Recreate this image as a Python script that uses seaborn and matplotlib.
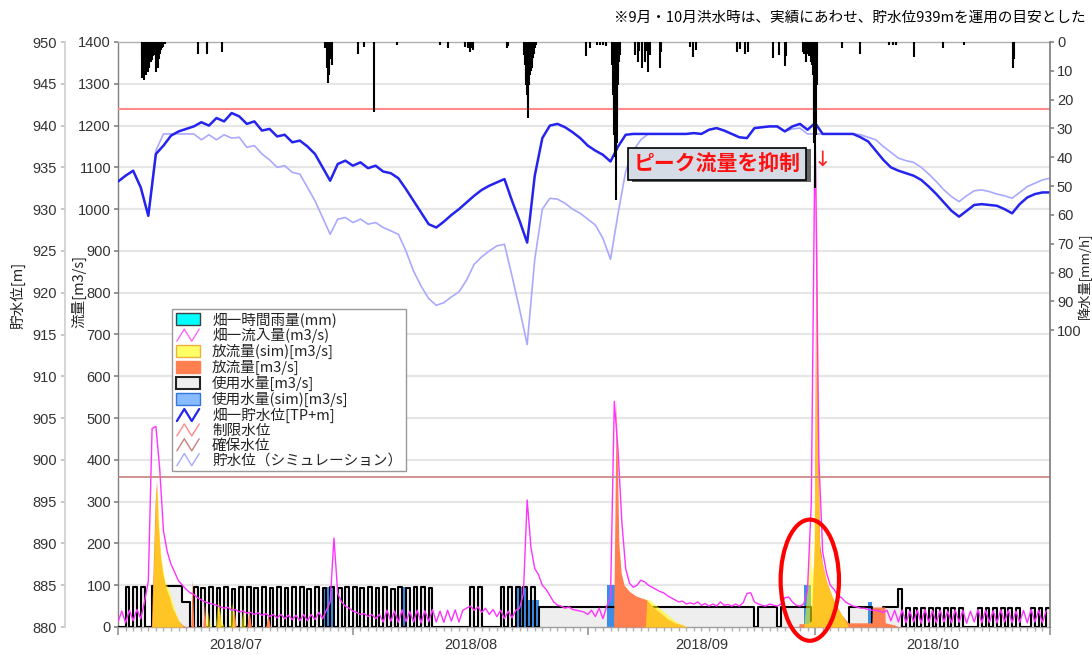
import numpy as np
import pandas as pd
import matplotlib
matplotlib.use("Agg")
import matplotlib.pyplot as plt
import matplotlib.dates as mdates
import matplotlib.transforms as mtransforms
import matplotlib.patheffects as pe
from matplotlib.patches import Rectangle, Ellipse
from matplotlib.lines import Line2D
from matplotlib.legend_handler import HandlerBase
from matplotlib.ticker import NullFormatter
import seaborn as sns

sns.set_theme(style="white")
plt.rcParams["font.family"] = ["Liberation Sans", "Noto Sans CJK JP", "DejaVu Sans"]
JP = ["Noto Sans CJK JP", "DejaVu Sans"]

START = pd.Timestamp("2018-07-01")
END = pd.Timestamp("2018-11-01")

# ---------------------------------------------------------------- data
month_starts = ["2018-07-01", "2018-08-01", "2018-09-01", "2018-10-01", "2018-11-01"]
month_labels = ["2018/07", "2018/08", "2018/09", "2018/10"]

# 畑一流入量 [m3/s], every 12 h from 2018-07-01 00:00
inflow_q = [
    12, 38, 10, 40, 15, 42, 20, 60, 110, 475, 480, 380, 230, 180, 150, 130, 110, 100, 90, 82,
    78, 70, 65, 60, 57, 55, 52, 48, 45, 47, 40, 42, 36, 38, 33, 35, 30, 34, 28, 32,
    25, 30, 22, 30, 20, 28, 18, 28, 15, 30, 15, 30, 18, 35, 20, 40, 60, 213, 80, 60,
    50, 45, 38, 35, 30, 32, 25, 30, 20, 30, 12, 40, 14, 38, 11, 41, 13, 37, 12, 40,
    10, 39, 13, 42, 12, 38, 11, 40, 14, 41, 12, 40, 45, 50, 40, 48, 35, 45, 30, 42,
    25, 40, 20, 38, 22, 40, 45, 80, 304, 190, 140, 125, 100, 90, 75, 60, 52, 50, 45, 48,
    42, 40, 38, 36, 30, 40, 25, 45, 20, 50, 70, 540, 420, 250, 140, 105, 95, 100, 112, 108,
    100, 95, 90, 85, 82, 75, 70, 65, 60, 62, 55, 58, 55, 60, 52, 56, 50, 55, 50, 60,
    52, 54, 50, 55, 50, 58, 80, 82, 60, 55, 52, 50, 55, 52, 50, 55, 70, 72, 60, 52,
    50, 55, 90, 300, 1200, 400, 180, 130, 100, 90, 75, 70, 60, 55, 50, 48, 45, 45, 42, 40,
    40, 38, 35, 40, 15, 40, 12, 41, 10, 38, 12, 40, 9, 42, 11, 39, 10, 40, 12, 38,
    10, 41, 11, 40, 9, 38, 12, 42, 10, 40, 11, 39, 10, 41, 12, 40, 10, 38, 11, 40,
    10, 42, 12, 40, 10, 39,
]

# 使用水量 [m3/s], every 12 h (step)
use_q = [
    0, 0, 95, 0, 95, 0, 95, 0, 0, 98, 98, 98, 98, 98, 98, 98, 98, 60, 60, 0,
    95, 0, 93, 0, 95, 0, 94, 0, 95, 0, 92, 0, 95, 0, 95, 0, 93, 0, 95, 0,
    94, 0, 95, 0, 93, 0, 95, 0, 95, 0, 92, 0, 95, 0, 94, 0, 95, 0, 93, 0,
    95, 0, 95, 0, 94, 0, 95, 0, 93, 0, 95, 0, 92, 0, 95, 0, 94, 0, 95, 0,
    95, 0, 93, 0, 0, 0, 0, 0, 0, 0, 0, 0, 0, 95, 0, 95, 0, 0, 0, 0,
    0, 95, 0, 95, 0, 95, 0, 95, 0, 95, 0, 48, 48, 48, 48, 48, 48, 48, 48, 48,
    48, 48, 48, 48, 48, 48, 48, 48, 48, 48, 48, 48, 48, 48, 48, 48, 48, 48, 48, 48,
    48, 48, 48, 48, 48, 48, 48, 48, 48, 48, 48, 48, 48, 48, 48, 48, 48, 48, 48, 48,
    48, 48, 48, 48, 48, 48, 48, 48, 0, 48, 48, 48, 48, 48, 0, 48, 48, 48, 48, 48,
    48, 48, 48, 0, 0, 0, 0, 0, 0, 0, 0, 0, 0, 48, 48, 48, 48, 48, 48, 0,
    0, 0, 47, 47, 47, 47, 90, 0, 45, 0, 45, 0, 45, 0, 45, 0, 45, 0, 45, 0,
    45, 0, 45, 0, 0, 0, 0, 45, 0, 45, 0, 45, 0, 45, 0, 45, 0, 45, 0, 0,
    0, 45, 0, 45, 0, 45,
]

# 使用水量(sim) [m3/s], step breakpoints (days from 2018-07-01)
sim_use_day = [0, 27.0, 28.5, 37.5, 38.0, 52.5, 54.0, 55.5, 64.5, 66.0, 90.5, 91.5, 99.0, 99.5, 123]
sim_use_q = [0, 95, 0, 95, 0, 95, 65, 0, 100, 0, 100, 0, 60, 0, 0]

# 放流量 [m3/s]
outflow_day = [0, 4.4, 4.6, 4.9, 5.1, 5.3, 5.6, 5.9, 6.3, 6.8, 7.2, 7.6, 8.0, 8.5, 9.0,
               9.6, 9.8, 10.0, 11.2, 11.4, 11.6, 13.0, 13.3, 13.6, 15.0, 15.3, 15.6,
               17.0, 17.3, 17.6, 19.5, 19.8, 20.1,
               65.4, 65.6, 65.75, 65.9, 66.1, 66.4, 66.8, 67.5, 68.3, 69.0, 69.8, 70.5,
               71.5, 72.5, 73.5, 74.5, 75.0,
               89.8, 89.9, 91.0, 91.5, 91.9, 92.15, 92.35, 92.6, 93.0, 93.5, 94.0, 94.5,
               95.0, 95.5, 96.0, 96.4, 99.5, 99.55, 101.2, 101.25, 102.5, 103.0, 123]
outflow_q = [0, 0, 120, 300, 350, 250, 170, 130, 95, 70, 45, 30, 15, 5, 0,
             0, 115, 0, 0, 60, 0, 0, 50, 0, 0, 45, 0,
             0, 40, 0, 0, 30, 0,
             0, 300, 548, 400, 200, 130, 100, 85, 75, 70, 65, 50,
             35, 20, 10, 5, 0,
             0, 8, 8, 15, 200, 1140, 500, 200, 150, 110, 85, 62,
             45, 30, 18, 10, 10, 48, 48, 10, 5, 0, 0]

# 放流量(sim) [m3/s]
sim_outflow_day = [0, 4.5, 4.7, 5.0, 5.2, 5.5, 5.8, 6.2, 6.7, 7.2, 7.7, 8.2, 8.6,
                   11.5, 11.8, 12.2, 12.8, 13.2, 13.6, 14.0, 14.6, 15.0, 15.4, 16.2, 16.5, 16.8,
                   69.6, 69.8, 70.5, 71.5, 72.5, 73.5, 74.5, 75.2,
                   90.5, 90.7, 91.0, 91.3, 91.5, 91.8, 92.0, 92.15, 92.3, 92.6, 93.0, 93.5,
                   94.0, 94.5, 95.0, 95.5, 96.0, 96.4, 123]
sim_outflow_q = [0, 0, 150, 320, 330, 200, 150, 110, 90, 60, 30, 10, 0,
                 0, 40, 0, 0, 70, 20, 0, 0, 60, 0, 0, 45, 0,
                 0, 69, 60, 45, 30, 15, 5, 0,
                 0, 40, 100, 232, 120, 150, 400, 1100, 450, 180, 150, 110,
                 85, 62, 45, 30, 15, 0, 0]

# 畑一時間雨量 [mm/h]
rain_day = [3.15, 3.2, 3.3, 3.4, 3.47, 3.55, 3.65, 3.75, 3.85, 3.95, 4.05, 4.15, 4.25, 4.35,
            4.45, 4.6, 4.7, 4.8, 4.95, 5.05, 5.15, 5.25, 5.35, 5.5, 5.7, 5.85, 6.0, 6.2,
            10.6, 11.7, 11.8, 13.7,
            27.3, 27.6, 27.7, 27.8, 27.9, 28.05, 28.2,
            31.7, 32.4, 33.8, 36.8,
            42.5, 43.6, 45.8, 46.2, 46.5, 46.6, 46.9, 51.3, 51.5,
            53.6, 53.7, 53.8, 53.9, 53.96, 54.05, 54.12, 54.2, 54.3, 54.4, 54.5, 54.6, 54.7,
            54.8, 54.9, 55.0, 55.2,
            61.7, 62.3, 63.2, 63.6, 64.0, 64.4,
            65.2, 65.3, 65.4, 65.5, 65.6, 65.7, 65.8, 65.9, 66.0, 66.05, 66.15, 66.2,
            68.2, 68.6, 68.8, 69.1, 69.5, 69.7, 70.0, 70.2, 71.5, 71.7,
            75.5, 75.9, 76.3,
            81.7, 82.1, 82.7, 83.2,
            86.5, 87.3, 88.0, 88.2,
            90.4, 90.6, 90.8, 91.0, 91.2, 91.35, 91.5, 91.6, 91.7, 91.8, 91.9, 92.0, 92.1,
            92.2, 92.3,
            95.5, 97.9, 101.8, 102.3, 102.7, 105.1, 108.9, 111.7, 118.1, 118.2]
rain_mm = [6, 12.6, 9, 11, 13.2, 8, 10, 11.5, 7, 10.3, 9, 8, 6, 7,
           6.2, 5, 4, 4.5, 6, 10.3, 8, 9.1, 6, 4, 2.8, 2, 1.6, 0.8,
           4, 4, 2, 3.4,
           2.2, 9, 14.3, 10, 11.5, 6, 8,
           4, 1.6, 24.2, 1,
           1, 2.2, 1.6, 2.2, 3.4, 2, 2.8, 2.2, 1.5,
           4.5, 8, 12.6, 15, 18.4, 26.5, 20, 14.9, 13, 11.5, 10, 9.1, 7,
           5.7, 4, 2.2, 1,
           5, 2.2, 1, 1.2, 1, 1.5,
           8, 18.4, 25, 32.3, 40, 54.9, 35, 26.5, 15, 11.5, 7, 4.5,
           4.5, 6.8, 3, 9.1, 6.8, 3, 10.3, 4.5, 9.1, 3.4,
           1.6, 5.1, 2.8,
           3.5, 2.5, 4, 3.5,
           5.7, 4.5, 8.5, 5,
           3.4, 4, 6.8, 4, 5, 4, 6.8, 8, 11.5, 26.5, 35, 50.8, 32.3,
           14.9, 4.5,
           2.2, 4, 1, 1, 1, 5.1, 2.2, 1, 9.1, 6]

# 畑一貯水位 [TP+m], daily from 2018-07-01
level_obs = [
    933.3, 934.0, 934.6, 932.6, 929.2, 936.6, 937.6, 938.8, 939.3, 939.6,
    939.9, 940.4, 940.0, 940.9, 940.5, 941.5, 941.1, 940.2, 940.5, 939.4,
    939.6, 938.7, 938.9, 938.0, 938.2, 937.5, 936.6, 935.0, 933.4, 935.4,
    935.8, 935.2, 935.6, 934.9, 935.2, 934.5, 934.3, 933.7, 932.4, 931.0,
    929.6, 928.2, 927.8, 928.5, 929.3, 930.0, 930.8, 931.6, 932.3, 932.8,
    933.2, 933.6, 931.0, 928.6, 926.0, 934.0, 938.5, 940.0, 940.2, 939.8,
    939.2, 938.5, 937.6, 937.0, 936.5, 935.7, 937.5, 938.9, 939.0, 939.0,
    939.0, 939.0, 939.0, 939.0, 939.0, 939.0, 939.1, 939.0, 939.5, 939.7,
    939.4, 939.0, 938.6, 938.5, 939.7, 939.8, 939.9, 939.9, 939.3, 939.9,
    940.2, 939.5, 940.3, 939.0, 939.0, 939.0, 939.0, 939.0, 938.6, 938.1,
    937.0, 935.9, 935.0, 934.6, 934.3, 934.0, 933.5, 932.7, 931.8, 930.8,
    929.8, 929.1, 929.8, 930.5, 930.6, 930.5, 930.4, 930.0, 929.5, 930.6,
    931.4, 931.8, 932.0, 932.0,
]

# 貯水位（シミュレーション）[m], daily
level_sim = [
    933.3, 934.0, 934.6, 932.6, 929.2, 937.0, 939.0, 939.0, 939.0, 939.0,
    939.0, 938.3, 938.9, 938.3, 938.9, 938.5, 938.6, 937.4, 937.6, 936.6,
    935.9, 935.0, 935.2, 934.4, 934.2, 932.6, 931.0, 929.0, 927.0, 928.8,
    929.0, 928.4, 928.8, 928.2, 928.4, 927.8, 927.4, 927.0, 925.0, 922.6,
    920.8, 919.3, 918.5, 918.8, 919.5, 920.1, 921.5, 923.4, 924.3, 925.0,
    925.6, 925.8, 922.0, 918.0, 913.8, 924.0, 930.0, 931.3, 931.2, 930.7,
    930.0, 929.5, 928.8, 928.1, 926.5, 924.0, 929.5, 934.5, 937.0, 938.3,
    939.0, 939.0, 939.0, 939.0, 939.0, 939.0, 939.1, 939.0, 939.5, 939.7,
    939.4, 939.0, 938.6, 938.5, 939.7, 939.8, 939.9, 939.9, 939.3, 939.6,
    939.7, 939.0, 939.0, 939.0, 939.0, 939.0, 939.0, 939.0, 938.9, 938.6,
    938.3, 937.5, 936.8, 936.1, 935.8, 935.6, 935.0, 934.2, 933.3, 932.3,
    931.5, 930.9, 931.6, 932.2, 932.3, 932.1, 931.8, 931.6, 931.3, 932.0,
    932.7, 933.1, 933.5, 933.7,
]

limit_level = 942.0    # 制限水位
secure_level = 898.0   # 確保水位

flow_ticks = list(range(0, 1401, 100))
level_ticks = list(range(880, 951, 5))
rain_ticks = list(range(0, 101, 10))

# ---------------------------------------------------------------- helpers
def to_dates(days):
    return START + pd.to_timedelta(np.asarray(days, dtype=float), unit="D")


half_day = START + pd.to_timedelta(np.arange(len(inflow_q)) * 12, unit="h")
use_t = START + pd.to_timedelta(np.arange(len(use_q) + 1) * 12, unit="h")
use_vals = np.append(use_q, use_q[-1])
level_t = START + pd.to_timedelta(np.arange(len(level_obs)), unit="D")


class ZigzagHandler(HandlerBase):
    def create_artists(self, legend, orig_handle, xdescent, ydescent, width,
                       height, fontsize, trans):
        x = np.array([0.05, 0.35, 0.65, 0.95]) * width - xdescent
        y = np.array([0.0, 1.0, 0.0, 1.0]) * height - ydescent
        ln = Line2D(x, y, color=orig_handle.get_color(),
                    lw=orig_handle.get_linewidth(), transform=trans)
        return [ln]


# ---------------------------------------------------------------- figure
W, H = 1092, 655
fig = plt.figure(figsize=(W / 100, H / 100), dpi=100)
ax = fig.add_axes([118 / W, 28 / H, 932 / W, 585 / H])
ax_lvl = ax.twinx()
ax_rain = ax.twinx()

TICK_C = "#333333"

# flow axis (left, inner)
ax.set_ylim(0, 1400)
ax.set_yticks(flow_ticks)
ax.yaxis.grid(True, color="#E6E6E6", lw=1.6)
ax.set_axisbelow(True)
ax.tick_params(axis="y", left=True, length=3, pad=2, labelsize=10.5,
               labelcolor=TICK_C, color="#888888")
for s, c in [("left", "#808080"), ("bottom", "#A0A0A0"), ("top", "#B0B0B0")]:
    ax.spines[s].set_color(c)
    ax.spines[s].set_linewidth(1.0)
ax.spines["right"].set_visible(False)

# water use (grey area + black outline) and simulated water use
ax.fill_between(use_t, 0, use_vals, step="post", color="#EEEEEE", lw=0, zorder=1)
sim_use_t = to_dates(sim_use_day)
ax.fill_between(sim_use_t, 0, sim_use_q, step="post", color="#3A8EE6", lw=0, zorder=2)
ax.step(use_t, use_vals, where="post", color="black", lw=1.5, zorder=3)

# outflows
ax.fill_between(to_dates(outflow_day), 0, outflow_q, color="#FF7F50", lw=0, zorder=4)
ax.fill_between(to_dates(sim_outflow_day), 0, sim_outflow_q, color="#FFFF00",
                alpha=0.55, lw=0, zorder=5)

# inflow
sns.lineplot(x=half_day, y=inflow_q, ax=ax, color="#FF33FF", lw=1.0,
             estimator=None, zorder=6)

# date axis
ax.set_xlim(START, END)
ax.xaxis.set_major_locator(mdates.MonthLocator())
ax.xaxis.set_major_formatter(NullFormatter())
ax.xaxis.set_minor_locator(mdates.DayLocator())
ax.tick_params(axis="x", which="major", bottom=True, length=6, color="#999999")
ax.tick_params(axis="x", which="minor", bottom=True, length=3, color="#B0B0B0")
xlab_tr = mtransforms.blended_transform_factory(ax.transData, ax.transAxes)
for i, lab in enumerate(month_labels):
    a = pd.Timestamp(month_starts[i])
    b = pd.Timestamp(month_starts[i + 1])
    ax.text(a + (b - a) / 2, -0.031, lab, transform=xlab_tr, ha="center",
            va="center", fontsize=10.5, color=TICK_C)
ax.set_xlabel("")
ax.set_ylabel("")

# level axis (left, outer)
ax_lvl.set_ylim(880, 950)
ax_lvl.set_yticks(level_ticks)
ax_lvl.yaxis.tick_left()
ax_lvl.spines["left"].set_position(("axes", -53 / 932))
ax_lvl.spines["left"].set_visible(True)
ax_lvl.spines["left"].set_color("#D0D0D0")
for s in ["right", "top", "bottom"]:
    ax_lvl.spines[s].set_visible(False)
ax_lvl.tick_params(axis="y", left=True, length=3, pad=3, labelsize=10.5,
                   labelcolor=TICK_C, color="#C0C0C0")
ax_lvl.axhline(limit_level, color="#FF8A8A", lw=1.5, zorder=2)
ax_lvl.axhline(secure_level, color="#C98080", lw=1.2, zorder=2)
sns.lineplot(x=level_t, y=level_sim, ax=ax_lvl, color="#A9A9FF", lw=1.2,
             estimator=None, zorder=3)
sns.lineplot(x=level_t, y=level_obs, ax=ax_lvl, color="#2424EE", lw=1.8,
             estimator=None, zorder=4)
ax_lvl.set_ylabel("")
ax_lvl.set_xlabel("")

# rainfall axis (right, inverted)
ax_rain.set_ylim(203, 0)
ax_rain.set_yticks(rain_ticks)
for s in ["left", "top", "bottom"]:
    ax_rain.spines[s].set_visible(False)
ax_rain.spines["right"].set_color("#808080")
ax_rain.tick_params(axis="y", right=True, length=3, pad=2, labelsize=10.5,
                    labelcolor=TICK_C, color="#888888")
ax_rain.vlines(to_dates(rain_day), 0, rain_mm, color="black", lw=1.5)
ax_rain.set_xlim(START, END)

# axis titles
fig.text(18 / W, 1 - 295 / H, "貯水位[m]", rotation=90, ha="center", va="center",
         fontsize=10.5, family=JP, color="#222222")
fig.text(79 / W, 1 - 292 / H, "流量[m3/s]", rotation=90, ha="center", va="center",
         fontsize=10.5, family=JP, color="#222222")
fig.text(1085 / W, 1 - 276 / H, "降水量[mm/h]", rotation=90, ha="center", va="center",
         fontsize=9.5, family=JP, color="#222222")

# note at top
fig.text(1086 / W, 1 - 18 / H, "※9月・10月洪水時は、実績にあわせ、貯水位939mを運用の目安とした",
         ha="right", va="center", fontsize=10.5, family=JP, color="black")

# callout
callout = fig.text(717 / W, 1 - 164 / H, "ピーク流量を抑制", ha="center", va="center",
                   fontsize=15, fontweight="bold", color="#FF1010", family=JP,
                   bbox=dict(boxstyle="square,pad=0.28", fc="#D6DCE5", ec="black", lw=1.2),
                   zorder=20)
callout.get_bbox_patch().set_path_effects(
    [pe.SimplePatchShadow(offset=(3, -1), shadow_rgbFace="#555555", alpha=0.9), pe.Normal()])
fig.text(822 / W, 1 - 160 / H, "↓", ha="center", va="center", fontsize=15,
         color="#FF2020", family=["DejaVu Sans"], zorder=20)

# ellipse around the flood peak
peak_c = mdates.date2num(to_dates([91.3])[0])
ax.add_patch(Ellipse((peak_c, 112), width=7.7, height=290, transform=ax.transData,
                     fill=False, ec="#FF0000", lw=3, clip_on=False, zorder=30))

# legend
handles = [
    Rectangle((0, 0), 1, 1, fc="#00FFFF", ec="#404040", lw=1),
    Line2D([], [], color="#FF66FF", lw=1.0),
    Rectangle((0, 0), 1, 1, fc="#FFFF66", ec="#F0B040", lw=1),
    Rectangle((0, 0), 1, 1, fc="#FF7F50", ec="#FF7F50", lw=1),
    Rectangle((0, 0), 1, 1, fc="#EEEEEE", ec="#222222", lw=1.5),
    Rectangle((0, 0), 1, 1, fc="#88BBFF", ec="#3377DD", lw=1),
    Line2D([], [], color="#2424EE", lw=1.6),
    Line2D([], [], color="#FF8A8A", lw=1.0),
    Line2D([], [], color="#C98080", lw=1.0),
    Line2D([], [], color="#A9A9FF", lw=1.0),
]
labels = ["畑一時間雨量(mm)", "畑一流入量(m3/s)", "放流量(sim)[m3/s]", "放流量[m3/s]",
          "使用水量[m3/s]", "使用水量(sim)[m3/s]", "畑一貯水位[TP+m]", "制限水位",
          "確保水位", "貯水位（シミュレーション）"]
leg = ax_rain.legend(handles, labels, handler_map={Line2D: ZigzagHandler()},
                     loc="upper left", bbox_to_anchor=(172 / W, 1 - 309 / H),
                     bbox_transform=fig.transFigure, borderaxespad=0, borderpad=0.25,
                     handlelength=1.7, handleheight=0.9, handletextpad=0.8,
                     labelspacing=0.05, fancybox=False, framealpha=1,
                     edgecolor="#999999", prop={"family": JP, "size": 10.5})
leg.get_frame().set_linewidth(1.0)
leg.set_zorder(40)
for t in leg.get_texts():
    t.set_color("#222222")

fig.savefig("out.png", dpi=100)
